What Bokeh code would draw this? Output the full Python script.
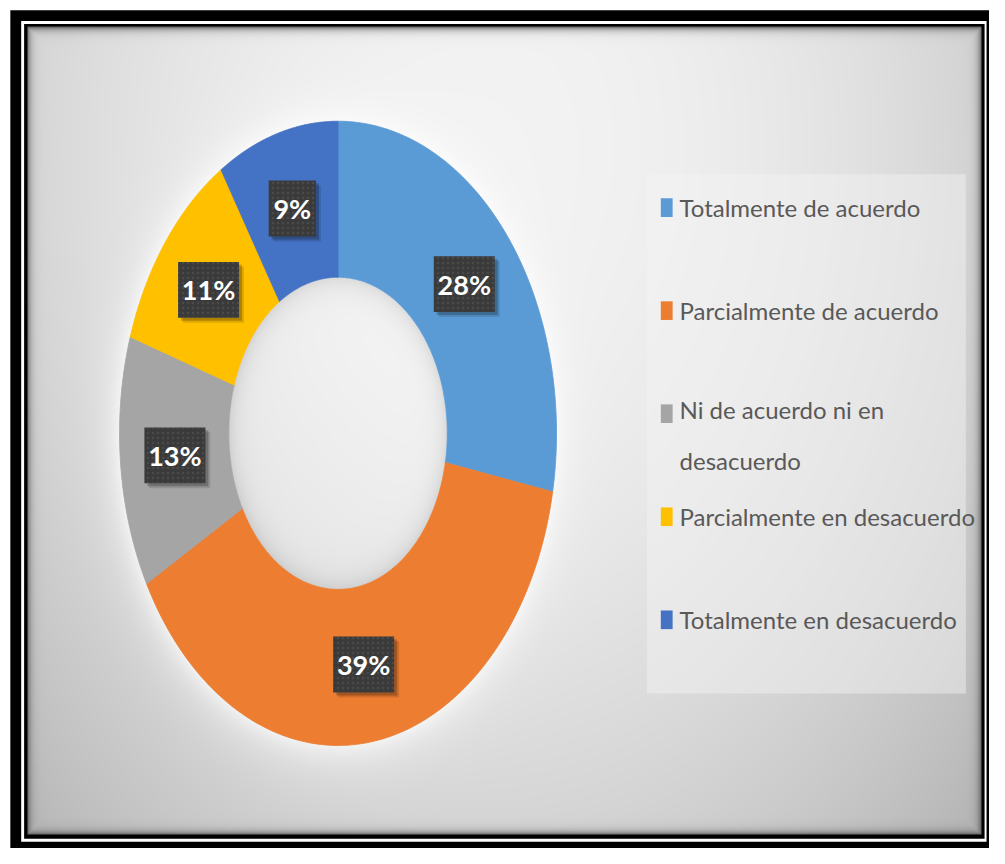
import numpy as np
from bokeh.plotting import figure
from bokeh.models import Range1d
from bokeh.core.properties import value
from bokeh.embed import file_html
from bokeh.resources import INLINE

# ---------------- data ----------------
categories = ["Totalmente de acuerdo", "Parcialmente de acuerdo",
              "Ni de acuerdo ni en desacuerdo", "Parcialmente en desacuerdo",
              "Totalmente en desacuerdo"]
legend_labels = ["Totalmente de acuerdo", "Parcialmente de acuerdo",
                 "Ni de acuerdo ni en\ndesacuerdo", "Parcialmente en desacuerdo",
                 "Totalmente en desacuerdo"]
values = [28, 39, 13, 11, 9]
pct_labels = ["28%", "39%", "13%", "11%", "9%"]
colors = ["#5B9BD5", "#ED7D31", "#A5A5A5", "#FFC000", "#4472C4"]

# ---------------- layout (reference-pixel coordinates, y downward negated) ----------------
W, H = 989, 848            # screen size of the figure
RW, RH = 1005, 864         # coordinate extent
CX, CY = 343, 441
RX, RY = 222, 318
HOLE = 0.5
PL, PT, PR, PB = 27, 27, 997, 850
FONT = "Lato"

p = figure(width=W, height=H, x_range=Range1d(0, RW), y_range=Range1d(-RH, 0),
           output_backend="svg", toolbar_location=None, min_border=0,
           x_axis_location=None, y_axis_location=None)
p.grid.visible = False
p.outline_line_color = None
p.background_fill_color = "white"
p.border_fill_color = "white"

# frames
p.quad(left=10, right=RW, top=-10, bottom=-RH, fill_color="black", line_color=None)
p.quad(left=21, right=1002, top=-21, bottom=-857, fill_color="white", line_color=None)
p.quad(left=24, right=1000, top=-24, bottom=-854, fill_color="black", line_color=None)

# panel background (gradient, inner shadow, donut glow)
xs = (np.arange(W) + 0.5) * RW / W
ys = (np.arange(H) + 0.5) * RH / H
XX, YY = np.meshgrid(xs, ys)
base = 243 - 47 * (((XX - 500) / 600) ** 2 + ((YY - 150) / 860) ** 2)
r = np.sqrt(((XX - CX) / RX) ** 2 + ((YY - CY) / RY) ** 2)
val = base.copy()
glow = np.where(r > 1, np.exp(-(r - 1) / 0.07), 0.0)
val = val + (255 - val) * 0.7 * glow
hole = r < HOLE
val = np.where(hole, base + 4 - 24 * np.exp(-(HOLE - r) / 0.04), val)
d = np.minimum.reduce([XX - PL, PR - XX, YY - PT, PB - YY])
shade = np.where(d >= 0, 0.7 * np.exp(-np.clip(d, 0, None) / 3.5), 0.0)
val = val * (1 - shade) + 50 * shade
val = np.clip(val, 0, 255).astype(np.uint8)
img = np.zeros((H, W), dtype=np.uint32)
view = img.view(dtype=np.uint8).reshape((H, W, 4))
view[:, :, 0] = val
view[:, :, 1] = val
view[:, :, 2] = val
view[:, :, 3] = np.where(d >= 0, 255, 0).astype(np.uint8)
p.image_rgba(image=[np.flipud(img)], x=0, y=-RH, dw=RW, dh=RH)

# donut slices
total = float(sum(values))
cum = np.concatenate([[0.0], np.cumsum(values)]) / total * 2 * np.pi
slice_xs, slice_ys = [], []
for k in range(len(values)):
    t = np.linspace(cum[k], cum[k + 1], 120)
    ox = CX + RX * np.sin(t)
    oy = -(CY - RY * np.cos(t))
    ix = CX + HOLE * RX * np.sin(t[::-1])
    iy = -(CY - HOLE * RY * np.cos(t[::-1]))
    slice_xs.append(np.concatenate([ox, ix]).tolist())
    slice_ys.append(np.concatenate([oy, iy]).tolist())
p.patches(slice_xs, slice_ys, fill_color=colors, line_color=colors, line_width=0.8)

# data labels
mid = (cum[:-1] + cum[1:]) / 2
rm = (1 + HOLE) / 2
lx = CX + rm * RX * np.sin(mid)
ly = -(CY - rm * RY * np.cos(mid))
bw = [14 * len(s) + 20 for s in pct_labels]
p.rect(x=lx + 3, y=ly - 3, width=bw, height=57, fill_color="black", fill_alpha=0.22, line_color=None)
p.rect(x=lx + 5, y=ly - 5, width=bw, height=57, fill_color="black", fill_alpha=0.12, line_color=None)
p.rect(x=lx, y=ly, width=bw, height=57, fill_color="#3a3a3a", line_color=None,
       hatch_pattern="dot", hatch_color="#707070", hatch_alpha=0.3, hatch_scale=5, hatch_weight=1)
p.text(x=lx, y=ly, text=pct_labels, text_color="white", text_font=value(FONT),
       text_font_style="bold", text_font_size="27px", text_align="center", text_baseline="middle")

# legend
p.quad(left=657, right=981, top=-177, bottom=-706, fill_color="#f4f4f4", fill_alpha=0.45, line_color=None)
LEG_Y0, LEG_STEP, LINE_H = 211, 105, 43
ey = [LEG_Y0 + LEG_STEP * k for k in range(len(legend_labels))]
p.rect(x=[677] * len(ey), y=[-v for v in ey], width=12, height=19, fill_color=colors, line_color=None)
FS = 24
ty = [-(e + (s.count("\n")) * LINE_H / 2) for e, s in zip(ey, legend_labels)]
p.text(x=[690] * len(ey), y=ty, text=legend_labels, text_color="#595959", text_font=value(FONT),
       text_font_size=f"{FS}px", text_align="left", text_baseline="middle",
       text_line_height=LINE_H / FS * H / RH)

open("out.html", "w").write(file_html(p, INLINE))
